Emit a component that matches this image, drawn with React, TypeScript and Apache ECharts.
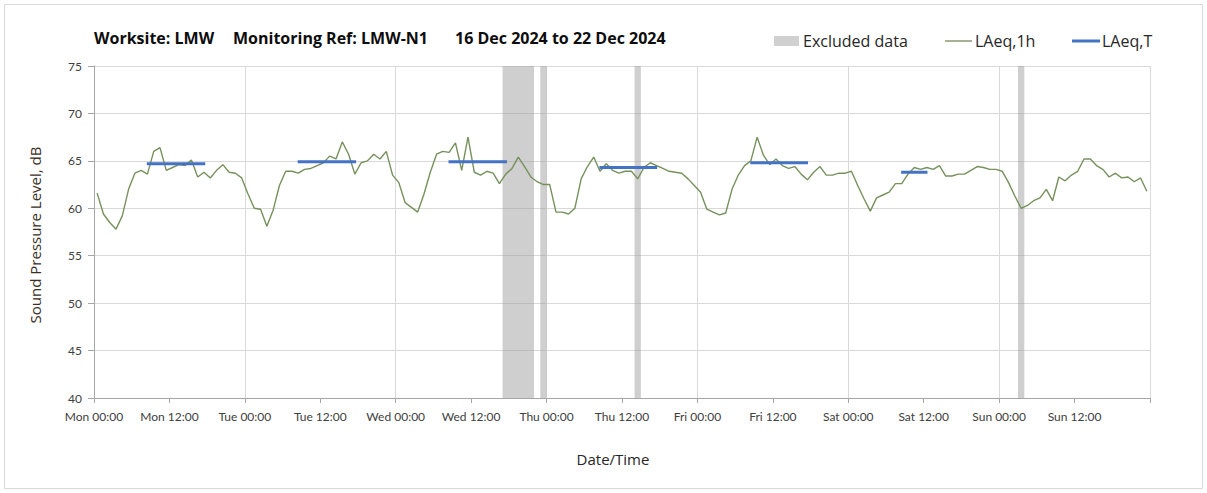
import React, { useEffect, useRef } from "react";
import * as echarts from "echarts";

// Hourly LAeq,1h values (dB), Mon 00:00 .. Sun 23:00, plotted at hour mid-points
const laeq1h = [
  61.6, 59.4, 58.5, 57.8, 59.2, 62.0, 63.7, 64.0, 63.6, 66.0, 66.4, 64.0,
  64.3, 64.6, 64.5, 65.1, 63.3, 63.8, 63.2, 64.0, 64.6, 63.8, 63.7, 63.2,
  61.5, 60.0, 59.9, 58.1, 59.8, 62.4, 63.9, 63.9, 63.7, 64.1, 64.2, 64.5,
  64.8, 65.5, 65.2, 67.0, 65.7, 63.6, 64.8, 65.0, 65.7, 65.2, 66.0, 63.5,
  62.7, 60.6, 60.1, 59.6, 61.5, 63.8, 65.7, 66.0, 65.9, 66.9, 64.0, 67.5,
  63.8, 63.5, 63.9, 63.7, 62.6, 63.6, 64.2, 65.4, 64.4, 63.3, 62.8, 62.5,
  62.5, 59.6, 59.6, 59.4, 60.0, 63.1, 64.4, 65.4, 63.9, 64.7, 64.0, 63.7,
  63.9, 63.9, 63.1, 64.3, 64.8, 64.5, 64.2, 63.9, 63.8, 63.7, 63.1, 62.4,
  61.7, 59.9, 59.6, 59.3, 59.5, 62.0, 63.5, 64.5, 65.0, 67.5, 65.6, 64.6,
  65.2, 64.5, 64.2, 64.4, 63.6, 63.0, 63.8, 64.4, 63.5, 63.5, 63.7, 63.7,
  63.9, 62.4, 61.0, 59.7, 61.1, 61.4, 61.7, 62.6, 62.6, 63.6, 64.3, 64.1,
  64.3, 64.1, 64.5, 63.4, 63.4, 63.6, 63.6, 64.0, 64.4, 64.3, 64.1, 64.1,
  63.9, 62.7, 61.3, 60.0, 60.3, 60.8, 61.1, 62.0, 60.8, 63.3, 62.9, 63.5,
  63.9, 65.2, 65.2, 64.5, 64.1, 63.3, 63.7, 63.2, 63.3, 62.8, 63.2, 61.8,
];

// LAeq,T period segments: start hour, end hour, level (dB)
const periodStart = [8.4, 32.4, 56.4, 80.4, 104.4, 128.4];
const periodEnd = [17.7, 41.7, 65.7, 89.6, 113.6, 132.6];
const periodLevel = [64.7, 64.9, 64.9, 64.3, 64.8, 63.8];

// Excluded data ranges (hours from Mon 00:00)
const excludedStart = [65, 71, 86, 147];
const excludedEnd = [70, 72, 87, 148];

const xTickLabels = [
  "Mon 00:00", "Mon 12:00", "Tue 00:00", "Tue 12:00", "Wed 00:00", "Wed 12:00",
  "Thu 00:00", "Thu 12:00", "Fri 00:00", "Fri 12:00", "Sat 00:00", "Sat 12:00",
  "Sun 00:00", "Sun 12:00",
];

const FONT = "Lato, 'Noto Sans', sans-serif";
const FONT2 = "'Open Sans', 'Noto Sans', sans-serif";

export default function App() {
  const ref = useRef<HTMLDivElement>(null);

  useEffect(() => {
    if (!ref.current) return;
    const chart = echarts.init(ref.current, undefined, { renderer: "svg" });

    const lineData = laeq1h.map((v, i) => [i + 0.5, v]);
    const periodData: any[] = [];
    periodStart.forEach((s, i) => {
      if (i > 0) periodData.push([s - 1, "-"]);
      periodData.push([s, periodLevel[i]]);
      periodData.push([periodEnd[i], periodLevel[i]]);
    });
    const areas = excludedStart.map((s, i) => [{ xAxis: s }, { xAxis: excludedEnd[i] }]);

    chart.setOption({
      animation: false,
      grid: { left: 94, right: 57, top: 66, bottom: 95 },
      xAxis: [
        {
          type: "value",
          min: 0,
          max: 168,
          interval: 12,
          axisLine: { show: true, lineStyle: { color: "#a6a6a6", width: 1 } },
          axisTick: { show: true, length: 5, lineStyle: { color: "#a6a6a6" } },
          axisLabel: {
            margin: 12,
            color: "#404040",
            fontFamily: FONT,
            fontSize: 12,
            formatter: (v: number) => xTickLabels[Math.round(v / 12)] ?? "",
          },
          splitLine: { show: false },
        },
        {
          type: "value",
          min: 0,
          max: 168,
          interval: 24,
          position: "bottom",
          axisLine: { show: false },
          axisTick: { show: false },
          axisLabel: { show: false },
          splitLine: { show: true, lineStyle: { color: "#d9d9d9", width: 1 } },
        },
      ],
      yAxis: {
        type: "value",
        min: 40,
        max: 75,
        interval: 5,
        axisLine: { show: true, lineStyle: { color: "#a6a6a6", width: 1 } },
        axisTick: { show: true, length: 6, lineStyle: { color: "#a6a6a6" } },
        axisLabel: { margin: 12, color: "#404040", fontFamily: FONT, fontSize: 12 },
        splitLine: { show: true, lineStyle: { color: "#d9d9d9", width: 1 } },
      },
      series: [
        {
          name: "Excluded data",
          type: "line",
          data: [],
          z: 1,
          markArea: {
            silent: true,
            itemStyle: { color: "rgba(160,160,160,0.5)" },
            data: areas,
          },
        },
        {
          name: "LAeq,1h",
          type: "line",
          data: lineData,
          showSymbol: false,
          symbol: "none",
          z: 3,
          lineStyle: { color: "#76915c", width: 1.4 },
        },
        {
          name: "LAeq,T",
          type: "line",
          data: periodData,
          showSymbol: false,
          symbol: "none",
          connectNulls: false,
          z: 4,
          lineStyle: { color: "#4472c4", width: 3 },
        },
      ],
      graphic: [
        {
          type: "rect",
          shape: { x: 4.5, y: 4.5, width: 1198, height: 484 },
          style: { fill: "none", stroke: "#d9d9d9", lineWidth: 1 },
          silent: true,
        },
        {
          type: "text",
          x: 94,
          y: 38,
          style: { text: "Worksite: LMW", font: `bold 16px ${FONT2}`, fill: "#0d0d0d", verticalAlign: "middle" },
        },
        {
          type: "text",
          x: 233,
          y: 38,
          style: { text: "Monitoring Ref: LMW-N1", font: `bold 16px ${FONT2}`, fill: "#0d0d0d", verticalAlign: "middle" },
        },
        {
          type: "text",
          x: 455,
          y: 38,
          style: { text: "16 Dec 2024 to 22 Dec 2024", font: `bold 16px ${FONT2}`, fill: "#0d0d0d", verticalAlign: "middle" },
        },
        {
          type: "rect",
          shape: { x: 774, y: 36, width: 25, height: 10 },
          style: { fill: "#d0d0d0" },
        },
        {
          type: "text",
          x: 803,
          y: 41,
          style: { text: "Excluded data", font: `16px ${FONT2}`, fill: "#262626", verticalAlign: "middle" },
        },
        {
          type: "line",
          shape: { x1: 945, y1: 41, x2: 972, y2: 41 },
          style: { stroke: "#4f6228", lineWidth: 1 },
        },
        {
          type: "text",
          x: 975,
          y: 41,
          style: { text: "LAeq,1h", font: `16px ${FONT2}`, fill: "#262626", verticalAlign: "middle" },
        },
        {
          type: "line",
          shape: { x1: 1072, y1: 41, x2: 1100, y2: 41 },
          style: { stroke: "#4472c4", lineWidth: 3 },
        },
        {
          type: "text",
          x: 1102,
          y: 41,
          style: { text: "LAeq,T", font: `16px ${FONT2}`, fill: "#262626", verticalAlign: "middle" },
        },
        {
          type: "text",
          x: 35,
          y: 235,
          rotation: Math.PI / 2,
          style: {
            text: "Sound Pressure Level, dB",
            font: `15px ${FONT2}`,
            fill: "#3a3026",
            align: "center",
            verticalAlign: "middle",
          },
        },
        {
          type: "text",
          x: 613,
          y: 459,
          style: {
            text: "Date/Time",
            font: `15px ${FONT2}`,
            fill: "#262626",
            align: "center",
            verticalAlign: "middle",
          },
        },
      ],
    });

    return () => chart.dispose();
  }, []);

  return (
    <div
      ref={ref}
      style={{ position: "absolute", left: 0, top: 0, width: 1207, height: 493, background: "#fff" }}
    />
  );
}
